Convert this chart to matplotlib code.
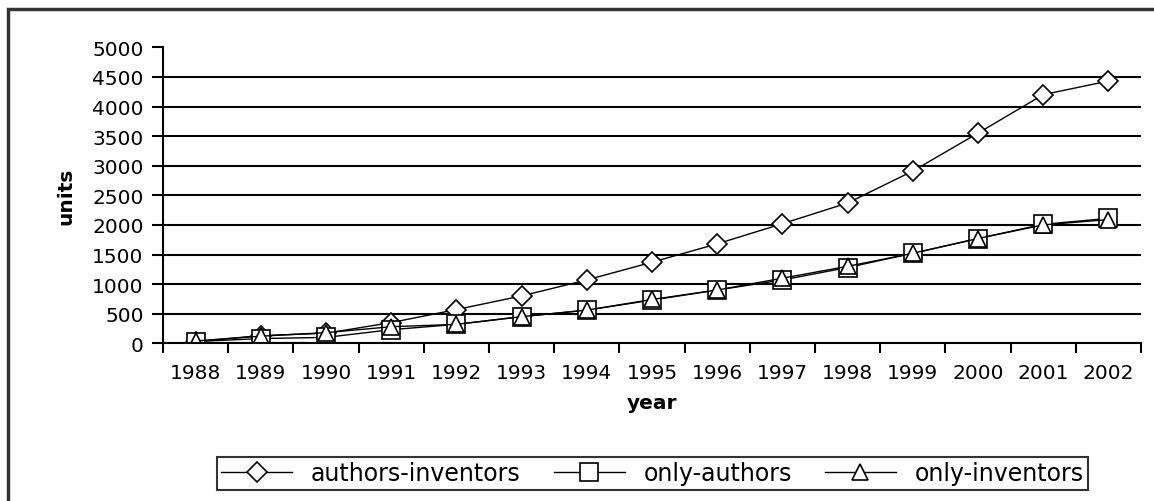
import matplotlib

matplotlib.use("Agg")

import matplotlib.pyplot as plt  # noqa: E402
from matplotlib.patches import Rectangle  # noqa: E402

years = [str(y) for y in range(1988, 2003)]
authors_inventors = [30, 130, 170, 350, 570, 800, 1070, 1370, 1680, 2020,
                     2370, 2910, 3550, 4200, 4430]
only_authors = [30, 80, 100, 230, 320, 450, 560, 730, 900, 1070,
                1280, 1520, 1770, 2010, 2110]
only_inventors = [40, 120, 180, 280, 320, 450, 560, 740, 900, 1100,
                  1300, 1520, 1770, 2000, 2090]
y_ticks = list(range(0, 5001, 500))

plt.rcParams["font.family"] = ["DejaVu Sans"]
FS = 14.5
W, H = 1154, 502

fig = plt.figure(figsize=(W / 100, H / 100), dpi=100)
ax = fig.add_axes([163 / W, 1 - 344.3 / H, 978 / W, 296 / H])

x = list(range(len(years)))
common = dict(color="black", lw=1.0, markerfacecolor="white",
              markeredgecolor="black", markeredgewidth=1.2)
ax.plot(x, authors_inventors, marker="D", markersize=10,
        label="authors-inventors", **common)
ax.plot(x, only_authors, marker="s", markersize=13,
        label="only-authors", **common)
ax.plot(x, only_inventors, marker="^", markersize=12,
        label="only-inventors", **common)

ax.set_xlim(-0.5, len(years) - 0.5)
ax.set_ylim(0, 5000)
ax.set_yticks(y_ticks)
ax.set_yticklabels([str(v) for v in y_ticks], fontsize=FS)
ax.set_xticks([i - 0.5 for i in range(len(years) + 1)])
ax.set_xticklabels([])
ax.set_xticks(x, minor=True)
ax.set_xticklabels(years, minor=True, fontsize=FS)
ax.tick_params(axis="x", which="major", direction="out", length=7,
               width=1.5)
ax.tick_params(axis="x", which="minor", length=0, pad=14)
ax.tick_params(axis="y", direction="out", length=8, width=1.5, pad=6)

ax.yaxis.grid(True, color="black", lw=1.5)
ax.get_ygridlines()[-1].set_visible(False)
ax.set_axisbelow(True)
for side in ("top", "right"):
    ax.spines[side].set_visible(False)
for side in ("left", "bottom"):
    ax.spines[side].set_linewidth(1.5)

ax.set_ylabel("units", fontsize=FS, fontweight="bold", labelpad=12)
ax.set_xlabel("year", fontsize=FS, fontweight="bold", labelpad=8)

leg = fig.legend(loc="center", bbox_to_anchor=(652.5 / W, 27.5 / H),
                 ncol=3, fontsize=17, frameon=True, fancybox=False,
                 handlelength=3.0, columnspacing=1.4, handletextpad=0.8,
                 borderpad=0.2, borderaxespad=0, edgecolor="black",
                 markerscale=1.0)
leg.get_frame().set_linewidth(1.5)

fig.patches.append(Rectangle((8 / W, -0.1), 1.2, 1 - 10 / H + 0.1,
                             transform=fig.transFigure, fill=False,
                             edgecolor="#333333", lw=2.5))

fig.savefig("out.png", dpi=100)
